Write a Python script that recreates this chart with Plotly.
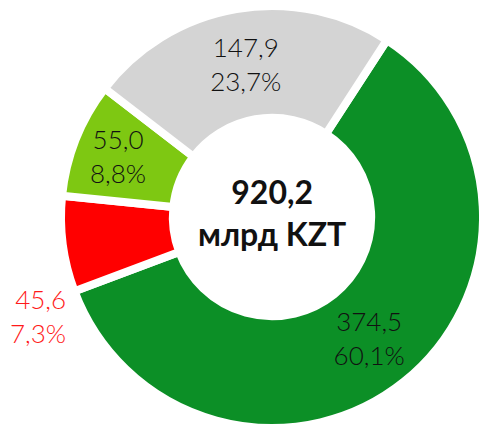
import plotly.graph_objects as go

# Data
labels = ["Segment A", "Segment B", "Segment C", "Segment D"]
values = [374.5, 45.6, 55.0, 147.9]
colors = ["#0c8f26", "#ff0000", "#7ec812", "#d4d4d4"]
text_positions = ["inside", "none", "inside", "inside"]
center_total = "920,2"
center_unit = "млрд KZT"

# figure slightly larger than the window; the overflow is clipped like the reference crop
W, H = 483, 432
ML, MR, MT, MB = 61, 0, 6, 4

fig = go.Figure(
    go.Pie(
        labels=labels,
        values=values,
        hole=0.47,
        sort=False,
        direction="clockwise",
        rotation=33,
        marker=dict(colors=colors, line=dict(color="white", width=8)),
        textposition=text_positions,
        insidetextorientation="horizontal",
        texttemplate="%{value:.1f}<br>%{percent:.1%}",
        textfont=dict(family="Lato", size=26, color="#111111", weight=300),
        showlegend=False,
        hoverinfo="label+value+percent",
    )
)

# label for the small red slice, shown outside
total = sum(values)
red_val = values[1]
red_text = f"{red_val:.1f}".replace(".", ",") + "<br>" + f"{100*red_val/total:.1f}".replace(".", ",") + "%"

pw = W - ML - MR
ph = H - MT - MB
fig.add_annotation(
    x=(68 - ML) / pw, y=1 - (316 - MT) / ph, xref="paper", yref="paper",
    text=red_text, showarrow=False, xanchor="right", yanchor="middle", align="right",
    font=dict(family="Lato", size=26, color="#ff1a1a", weight=300),
)
fig.add_annotation(
    x=0.5, y=1 - (212 - MT) / ph, xref="paper", yref="paper",
    text=f"<b>{center_total}</b><br><b>{center_unit}</b>", showarrow=False,
    yanchor="middle",
    font=dict(family="Lato", size=32, color="#111111"),
)

fig.update_layout(
    width=W, height=H,
    margin=dict(l=ML, r=MR, t=MT, b=MB),
    paper_bgcolor="white", plot_bgcolor="white",
    separators=", ",
)

fig.write_html(
    "out.html",
    config={"displayModeBar": False},
    post_script="document.body.style.margin='0';document.body.style.overflow='hidden';document.documentElement.style.overflow='hidden';",
)
